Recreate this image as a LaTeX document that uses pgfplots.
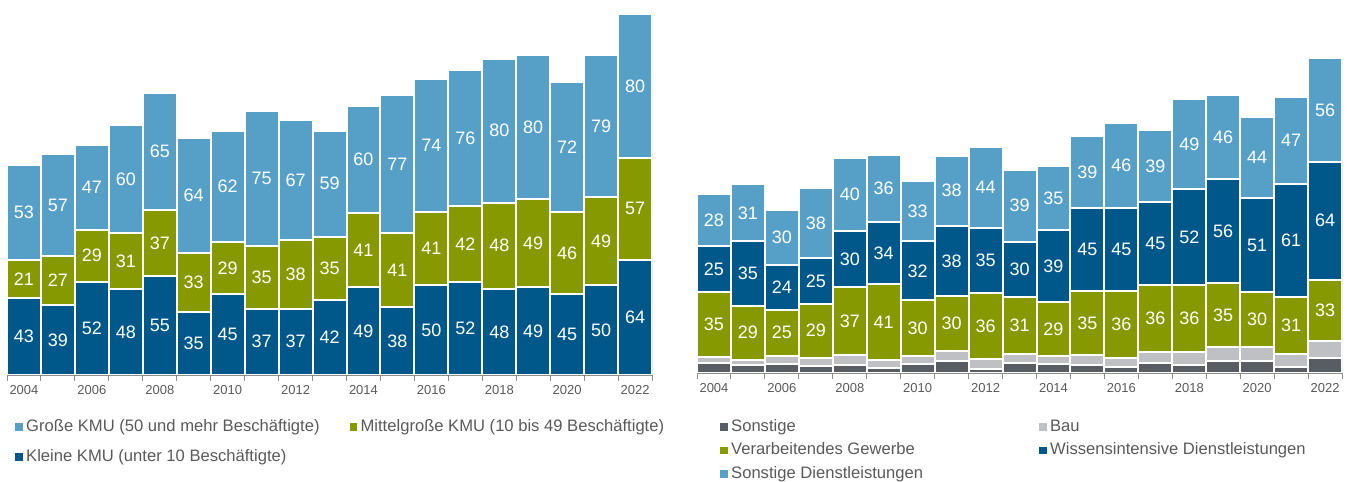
\documentclass[border=0pt]{standalone}
\usepackage{fontspec}
\setmainfont{Liberation Sans}
\usepackage{pgfplots}
\pgfplotsset{compat=1.18}

\definecolor{bigkmu}{HTML}{56A0C8}
\definecolor{midkmu}{HTML}{879900}
\definecolor{smallkmu}{HTML}{00588A}
\definecolor{sonst}{HTML}{585D64}
\definecolor{bau}{HTML}{BEC0C3}
\definecolor{txtgray}{HTML}{595959}
\definecolor{axgray}{HTML}{8C8C8C}

\pgfplotsset{
  stackbase/.style={
    ybar stacked,
    x=33.95pt, bar width=33.95pt,
    xmin=-0.5, xmax=18.5, ymin=0,
    enlargelimits=false,
    axis x line*=bottom, axis y line=none,
    axis on top,
    axis line style={-, axgray, line width=1pt},
    xtick={0,2,4,6,8,10,12,14,16,18},
    xticklabels={2004,2006,2008,2010,2012,2014,2016,2018,2020,2022},
    minor xtick={-0.5,0.5,...,18.5},
    tick align=outside,
    major tick length=0pt, minor tick length=6pt,
    tick style={axgray, line width=1pt},
    xticklabel style={font=\fontsize{13}{13}\selectfont, text=txtgray, inner sep=0pt, yshift=-10.5pt},
    every axis plot/.append style={draw=white, line width=2pt},
    visualization depends on={rawy \as \rawy},
    nodes near coords={\pgfmathprintnumber[assume math mode=true]{\rawy}},
    every node near coord/.append style={font=\fontsize{18}{18}\selectfont, text=white, anchor=center},
    legend cell align=left,
    legend style={draw=none, fill=none, font=\fontsize{16.6}{16.6}\selectfont, text=txtgray,
      anchor=north west,
      nodes={inner sep=0pt, text height=12pt, text depth=3.5pt},
      /tikz/every odd column/.append style={column sep=3.5pt}},
    legend image code/.code={\fill[#1,draw=none] (0pt,-3.75pt) rectangle (7.5pt,3.75pt);},
  },
}

\begin{document}
\begin{tikzpicture}
\useasboundingbox (0pt,0pt) rectangle (1347pt,-482pt);

% Unternehmensgröße
\begin{axis}[stackbase, at={(7pt,-375pt)}, anchor=south west,
  y=1.796pt, ymax=205,
  reverse legend, legend columns=2,
  legend style={at={(rel axis cs:0.0078,-0.114)}, row sep=14.5pt,
    /tikz/every even column/.append style={column sep=30pt}}]
\addplot[fill=smallkmu] coordinates {(0,43) (1,39) (2,52) (3,48) (4,55) (5,35) (6,45) (7,37) (8,37) (9,42) (10,49) (11,38) (12,50) (13,52) (14,48) (15,49) (16,45) (17,50) (18,64)};
\addplot[fill=midkmu] coordinates {(0,21) (1,27) (2,29) (3,31) (4,37) (5,33) (6,29) (7,35) (8,38) (9,35) (10,41) (11,41) (12,41) (13,42) (14,48) (15,49) (16,46) (17,49) (18,57)};
\addplot[fill=bigkmu] coordinates {(0,53) (1,57) (2,47) (3,60) (4,65) (5,64) (6,62) (7,75) (8,67) (9,59) (10,60) (11,77) (12,74) (13,76) (14,80) (15,80) (16,72) (17,79) (18,80)};
\legend{Kleine KMU (unter 10 Beschäftigte), Mittelgroße KMU (10 bis 49 Beschäftigte), Große KMU (50 und mehr Beschäftigte)}
\end{axis}

% Branchen
\begin{axis}[stackbase, at={(697pt,-373pt)}, anchor=south west,
  y=1.845pt, ymax=190,
  legend columns=2,
  legend style={at={(rel axis cs:0.031,-0.125)}, row sep=8pt,
    /tikz/every even column/.append style={column sep=116pt}}]
\addplot[fill=sonst, nodes near coords={}] coordinates {(0,5.3) (1,4.4) (2,4.9) (3,4.0) (4,4.4) (5,2.9) (6,4.9) (7,6.7) (8,2.2) (9,5.3) (10,5.1) (11,4.2) (12,3.3) (13,5.3) (14,4.4) (15,6.4) (16,6.4) (17,3.3) (18,8.2)};
\addplot[fill=bau, nodes near coords={}] coordinates {(0,3.5) (1,2.9) (2,4.5) (3,4.4) (4,5.3) (5,4.2) (6,4.4) (7,5.1) (8,5.3) (9,4.9) (10,4.2) (11,5.3) (12,5.1) (13,6.2) (14,7.1) (15,7.5) (16,7.5) (17,7.1) (18,9.3)};
\addplot[fill=midkmu] coordinates {(0,35) (1,29) (2,25) (3,29) (4,37) (5,41) (6,30) (7,30) (8,36) (9,31) (10,29) (11,35) (12,36) (13,36) (14,36) (15,35) (16,30) (17,31) (18,33)};
\addplot[fill=smallkmu] coordinates {(0,25) (1,35) (2,24) (3,25) (4,30) (5,34) (6,32) (7,38) (8,35) (9,30) (10,39) (11,45) (12,45) (13,45) (14,52) (15,56) (16,51) (17,61) (18,64)};
\addplot[fill=bigkmu] coordinates {(0,28) (1,31) (2,30) (3,38) (4,40) (5,36) (6,33) (7,38) (8,44) (9,39) (10,35) (11,39) (12,46) (13,39) (14,49) (15,46) (16,44) (17,47) (18,56)};
\legend{Sonstige, Bau, Verarbeitendes Gewerbe, Wissensintensive Dienstleistungen, Sonstige Dienstleistungen}
\end{axis}
\end{tikzpicture}
\end{document}
